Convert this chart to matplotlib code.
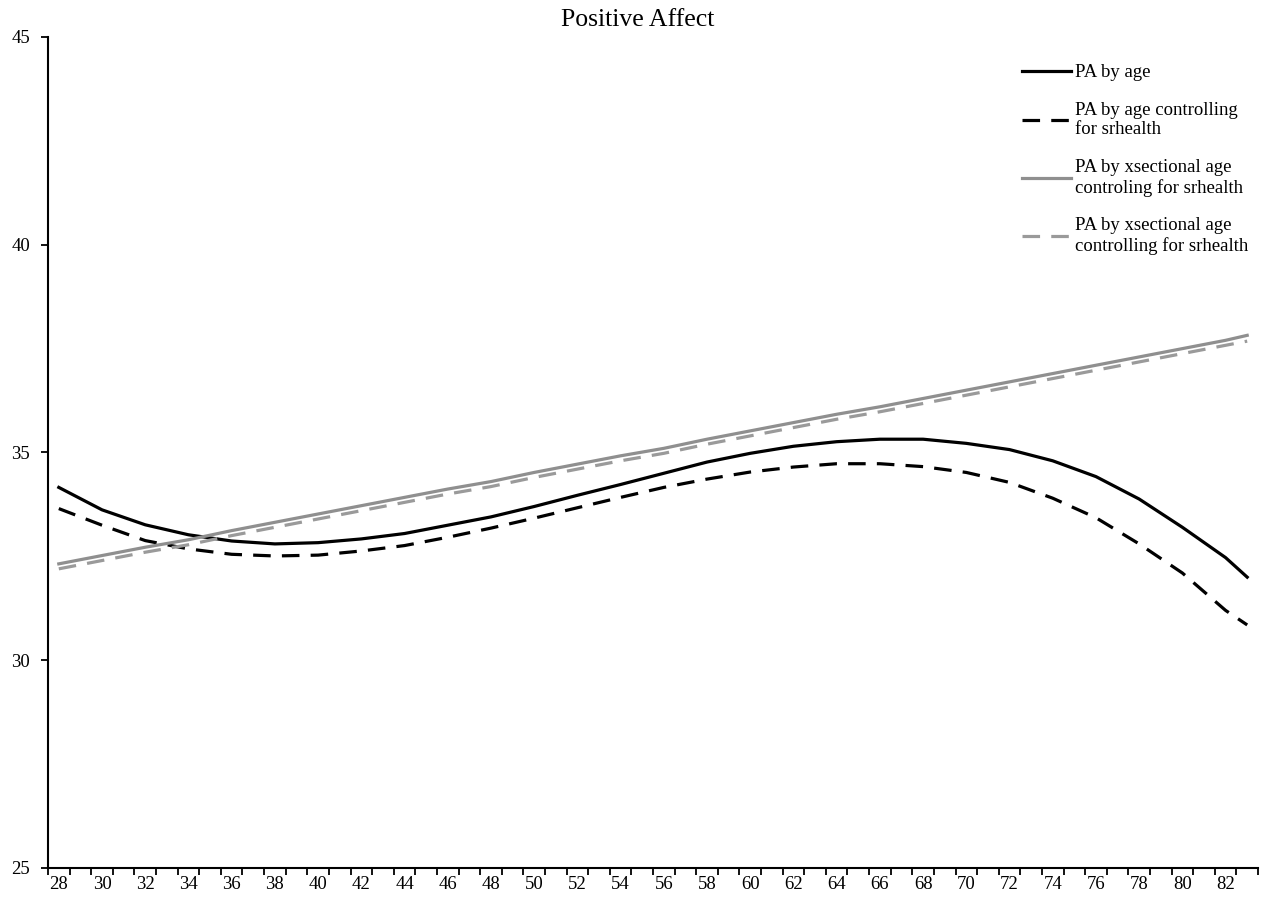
import numpy as np
import matplotlib
matplotlib.use("Agg")
import matplotlib.pyplot as plt

plt.rcParams['font.family'] = ['Liberation Serif', 'DejaVu Serif']

# ages (every other year plus the last one)
ages = [28, 30, 32, 34, 36, 38, 40, 42, 44, 46, 48, 50, 52, 54, 56,
        58, 60, 62, 64, 66, 68, 70, 72, 74, 76, 78, 80, 82, 83]

pa_by_age = [34.16, 33.62, 33.26, 33.02, 32.87, 32.80, 32.83, 32.92, 33.05, 33.25,
             33.45, 33.70, 33.97, 34.23, 34.50, 34.77, 34.98, 35.15, 35.26, 35.32,
             35.32, 35.22, 35.07, 34.80, 34.42, 33.88, 33.20, 32.47, 32.00]

pa_age_ctrl = [33.65, 33.25, 32.88, 32.68, 32.55, 32.51, 32.53, 32.63, 32.76, 32.96,
               33.18, 33.42, 33.67, 33.92, 34.16, 34.36, 34.53, 34.65, 34.73, 34.73,
               34.66, 34.52, 34.28, 33.90, 33.43, 32.80, 32.10, 31.20, 30.85]

pa_xsec_ctrl = [32.32, 32.52, 32.72, 32.90, 33.12, 33.32, 33.52, 33.72, 33.92, 34.12,
                34.30, 34.52, 34.72, 34.92, 35.10, 35.32, 35.52, 35.72, 35.92, 36.10,
                36.30, 36.50, 36.70, 36.90, 37.10, 37.30, 37.50, 37.70, 37.82]

pa_xsec_ctrl2 = [32.20, 32.40, 32.60, 32.78, 33.00, 33.20, 33.40, 33.60, 33.80, 34.00,
                 34.18, 34.40, 34.60, 34.80, 34.98, 35.20, 35.40, 35.60, 35.80, 35.98,
                 36.18, 36.38, 36.58, 36.78, 36.98, 37.18, 37.38, 37.58, 37.68]

labels = ["PA by age",
          "PA by age controlling\nfor srhealth",
          "PA by xsectional age\ncontroling for srhealth",
          "PA by xsectional age\ncontrolling for srhealth"]

tick_ages = list(range(28, 83, 2))
y_ticks = [25, 30, 35, 40, 45]

fig = plt.figure(figsize=(12.71, 9.06), dpi=100)
ax = fig.add_axes([48 / 1271, 38 / 906, (1258 - 48) / 1271, (868 - 37) / 906])

ax.plot(ages, pa_by_age, color='black', lw=2.3, label=labels[0])
ax.plot(ages, pa_age_ctrl, color='black', lw=2.3, dashes=(5.5, 3.5), label=labels[1])
ax.plot(ages, pa_xsec_ctrl, color='#8f8f8f', lw=2.3, label=labels[2])
ax.plot(ages, pa_xsec_ctrl2, color='#9a9a9a', lw=2.3, dashes=(5.5, 3.5), label=labels[3])

ax.set_xlim(27.5, 83.5)
ax.set_ylim(25, 45)
ax.set_yticks(y_ticks)
ax.set_xticks(tick_ages)
ax.set_xticks(np.arange(27.5, 84, 1), minor=True)
ax.tick_params(axis='x', which='major', length=0, pad=6, labelsize=13.5)
ax.tick_params(axis='x', which='minor', length=5, width=1.3, direction='out')
ax.tick_params(axis='y', length=5, width=1.3, direction='out', pad=8, labelsize=13.5)

for side in ['top', 'right']:
    ax.spines[side].set_visible(False)
for side in ['left', 'bottom']:
    ax.spines[side].set_linewidth(1.5)

leg = ax.legend(loc='upper left', bbox_to_anchor=(1022 / 1271, 1 - 64 / 906),
                bbox_transform=fig.transFigure, frameon=False, fontsize=13.5,
                borderpad=0, borderaxespad=0, handlelength=2.6,
                handletextpad=0.22, labelspacing=1.1)

fig.suptitle("Positive Affect", x=0.502, y=1 - 20 / 906, va='center', fontsize=18.5)

fig.savefig("out.png", dpi=100)
